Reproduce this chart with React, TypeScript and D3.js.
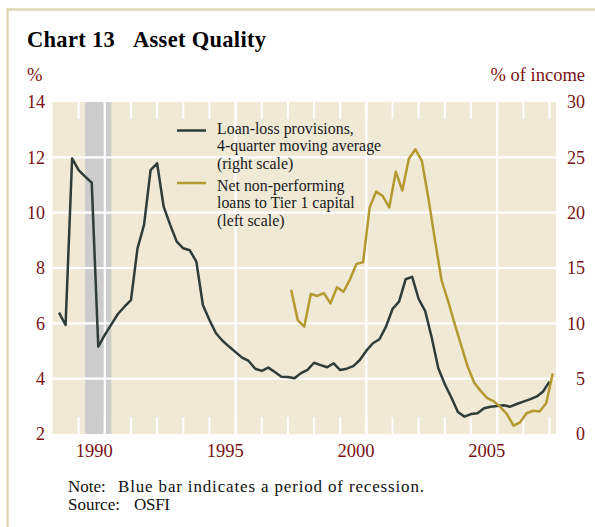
import * as d3 from "d3";

// quarterly, starting 1989 Q1 (plotted at quarter ends)
const darkStart = 1989.25;
const lossProvisions = [
  10.96, 9.85, 24.9, 23.85, 23.25, 22.7, 7.9, 8.95, 9.9, 10.84,
  11.5, 12.1, 16.78, 18.9, 23.85, 24.46, 20.54, 18.9, 17.38, 16.78,
  16.6, 15.57, 11.66, 10.3, 9.1, 8.43, 7.9, 7.4, 6.9, 6.6,
  5.9, 5.7, 6.0, 5.6, 5.18, 5.15, 5.03, 5.5, 5.8, 6.44,
  6.23, 6.03, 6.39, 5.78, 5.9, 6.14, 6.69, 7.53, 8.2, 8.56,
  9.7, 11.3, 11.96, 13.98, 14.2, 12.2, 11.1, 8.7, 5.94, 4.5,
  3.3, 1.98, 1.57, 1.8, 1.87, 2.32, 2.47, 2.53, 2.59, 2.47,
  2.71, 2.92, 3.13, 3.37, 3.82, 4.73,
];

const goldStart = 1998.125;
const nplToTier1 = [
  7.21, 6.12, 5.88, 7.06, 6.99, 7.09, 6.72, 7.3, 7.14, 7.59,
  8.15, 8.21, 10.19, 10.76, 10.6, 10.19, 11.48, 10.8, 11.95, 12.29,
  11.86, 10.5, 9.0, 7.55, 6.8, 5.98, 5.2, 4.43, 3.85, 3.55,
  3.3, 3.18, 2.97, 2.72, 2.3, 2.42, 2.75, 2.84, 2.81, 3.11,
  4.19,
];

const recession = [1990.25, 1991.25];
const yearTicks = d3.range(1990, 2009);
const gridYears = [1991, 1996, 2001, 2006];
const yearLabels = [1990, 1995, 2000, 2005];
const leftTicks = [2, 4, 6, 8, 10, 12, 14];
const rightTicks = [0, 5, 10, 15, 20, 25, 30];
const legendDark = ["Loan-loss provisions,", "4-quarter moving average", "(right scale)"];
const legendGold = ["Net non-performing", "loans to Tier 1 capital", "(left scale)"];

const W = 595;
const H = 527;
const L = 52.5, R = 556, T = 102, B = 434;
const RED = "#7a1114";
const DARK = "#2f3c37";
const GOLD = "#b4992f";
const FONT = "'Liberation Serif', 'Times New Roman', serif";

export default function App() {
  const x = d3.scaleLinear().domain([1989, 2008.25]).range([L, R]);
  const yL = d3.scaleLinear().domain([2, 14]).range([B, T]);
  const yR = d3.scaleLinear().domain([0, 30]).range([B, T]);

  const darkLine = d3
    .line<number>()
    .x((_, i) => x(darkStart + i * 0.25))
    .y((d) => yR(d));
  const goldLine = d3
    .line<number>()
    .x((_, i) => x(goldStart + i * 0.25))
    .y((d) => yL(d));

  const tickLen = 17;

  return (
    <div style={{ position: "absolute", left: 0, top: 0 }}>
      <svg width={W} height={H} style={{ display: "block" }} fontFamily={FONT}>
        <rect width={W} height={H} fill="#fff" />
        {/* frame */}
        <line x1={6.5} x2={W} y1={9.5} y2={9.5} stroke="#e0d7b3" strokeWidth={2.5} />
        <line x1={7.5} x2={7.5} y1={8.5} y2={H} stroke="#e0d7b3" strokeWidth={2.5} />

        <text x={27} y={47} fontSize={22.5} fontWeight="bold" fill="#000" letterSpacing={0.3}>
          Chart 13
        </text>
        <text x={133} y={47} fontSize={22.5} fontWeight="bold" fill="#000" letterSpacing={0.3}>
          Asset Quality
        </text>

        <text x={27} y={81} fontSize={18.5} fill={RED}>%</text>
        <text x={585} y={81} fontSize={18.5} fill={RED} textAnchor="end">% of income</text>

        {/* plot background */}
        <rect x={L} y={T} width={R - L} height={B - T} fill="#efe9d6" />
        <rect
          x={x(recession[0])}
          y={T}
          width={x(recession[1]) - x(recession[0])}
          height={B - T}
          fill="#cbcccb"
        />

        {/* grid */}
        {leftTicks.slice(1, -1).map((v) => (
          <line key={"h" + v} x1={L} x2={R} y1={yL(v)} y2={yL(v)} stroke="#fff" strokeWidth={2.2} />
        ))}
        {gridYears.map((yr) => (
          <line key={"v" + yr} x1={x(yr)} x2={x(yr)} y1={T} y2={B} stroke="#fff" strokeWidth={2.2} />
        ))}
        {yearTicks.map((yr) => (
          <g key={"t" + yr}>
            <line x1={x(yr)} x2={x(yr)} y1={T} y2={T + tickLen} stroke="#fff" strokeWidth={2} />
            <line x1={x(yr)} x2={x(yr)} y1={B - tickLen} y2={B} stroke="#fff" strokeWidth={2} />
          </g>
        ))}

        {/* series */}
        <path d={darkLine(lossProvisions) || ""} fill="none" stroke={DARK} strokeWidth={2.5} strokeLinejoin="round" />
        <path d={goldLine(nplToTier1) || ""} fill="none" stroke={GOLD} strokeWidth={2.5} strokeLinejoin="round" />

        {/* axes labels */}
        {leftTicks.map((v) => (
          <text key={"l" + v} x={45} y={yL(v)} dy="0.35em" fontSize={18} fill={RED} textAnchor="end">
            {v}
          </text>
        ))}
        {rightTicks.map((v) => (
          <text key={"r" + v} x={585} y={yR(v)} dy="0.35em" fontSize={18} fill={RED} textAnchor="end">
            {v}
          </text>
        ))}
        {yearLabels.map((yr) => (
          <text key={"y" + yr} x={x(yr + 0.6)} y={457} fontSize={18.5} fill={RED} textAnchor="middle">
            {yr}
          </text>
        ))}

        {/* legend */}
        <line x1={177} x2={206} y1={130.5} y2={130.5} stroke={DARK} strokeWidth={2.5} />
        <line x1={177} x2={206} y1={183} y2={183} stroke={GOLD} strokeWidth={2.5} />
        {legendDark.map((t, i) => (
          <text key={"ld" + i} x={217} y={133.5 + i * 17.6} fontSize={15.9} fill="#1a1a1a">
            {t}
          </text>
        ))}
        {legendGold.map((t, i) => (
          <text key={"lg" + i} x={217} y={190.5 + i * 17.6} fontSize={15.9} fill="#1a1a1a">
            {t}
          </text>
        ))}

        {/* notes */}
        <text x={68} y={492} fontSize={17} fill="#111">Note:</text>
        <text x={118} y={492} fontSize={17} fill="#111" textLength={306} lengthAdjust="spacing">
          Blue bar indicates a period of recession.
        </text>
        <text x={68} y={510} fontSize={17} fill="#111">Source:</text>
        <text x={134} y={510} fontSize={17} fill="#111" textLength={36} lengthAdjust="spacing">OSFI</text>
      </svg>
    </div>
  );
}
